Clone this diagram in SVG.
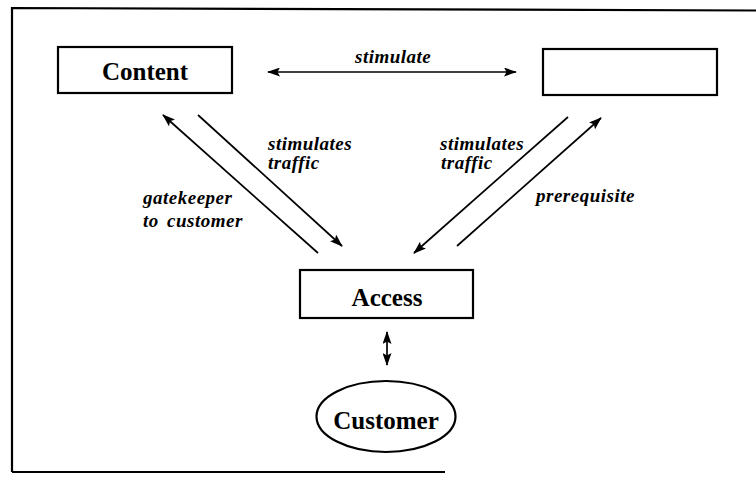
<svg xmlns="http://www.w3.org/2000/svg" width="756" height="482" viewBox="0 0 756 482">
<defs>
<style>
.box{fill:#fff;stroke:#000;stroke-width:2.2}
.node{font-family:"Liberation Serif","Times New Roman",serif;font-weight:bold;font-size:25px;fill:#000;text-anchor:middle}
.lbl{font-family:"Liberation Serif","Times New Roman",serif;font-weight:bold;font-style:italic;font-size:19px;letter-spacing:0.5px;fill:#000}
.con{stroke:#000;stroke-width:1.7;fill:none}
.frame{stroke:#000;stroke-width:2.2;fill:none}
</style>
<marker id="ah" viewBox="0 0 13 9" refX="12" refY="4.5" markerWidth="13" markerHeight="9" markerUnits="userSpaceOnUse" orient="auto-start-reverse">
<path d="M0,0 L13,4.5 L0,9 L2.5,4.5 z" fill="#000"/>
</marker>
</defs>
<rect width="756" height="482" fill="#fff"/>
<polyline class="frame" points="12,472 12,8 756,10.5"/>
<line class="frame" x1="12" y1="472" x2="445" y2="472"/>
<g id="content">
<rect class="box" x="58" y="47" width="174" height="46"/>
<text class="node" x="145" y="80">Content</text>
</g>
<g id="blank">
<rect class="box" x="543" y="49" width="174" height="46"/>
</g>
<g id="access">
<rect class="box" x="300" y="270" width="173" height="48"/>
<text class="node" x="387" y="306">Access</text>
</g>
<g id="customer">
<ellipse class="box" cx="386" cy="416.5" rx="69.5" ry="35.5"/>
<text class="node" x="386" y="429">Customer</text>
</g>
<g id="connectors">
<line class="con" x1="268" y1="72" x2="516" y2="72" marker-start="url(#ah)" marker-end="url(#ah)"/>
<line class="con" x1="318" y1="253" x2="163" y2="115" marker-end="url(#ah)"/>
<line class="con" x1="198" y1="115" x2="342" y2="246" marker-end="url(#ah)"/>
<line class="con" x1="568" y1="117" x2="414" y2="253" marker-end="url(#ah)"/>
<line class="con" x1="457" y1="246" x2="601" y2="118" marker-end="url(#ah)"/>
<line class="con" x1="387" y1="332" x2="387" y2="365" marker-start="url(#ah)" marker-end="url(#ah)"/>
</g>
<g id="labels">
<text class="lbl" x="355" y="63">stimulate</text>
<text class="lbl" x="268" y="150">stimulates</text>
<text class="lbl" x="268" y="169">traffic</text>
<text class="lbl" x="143" y="204">gatekeeper</text>
<text class="lbl" x="143" y="227" word-spacing="3">to customer</text>
<text class="lbl" x="440" y="150">stimulates</text>
<text class="lbl" x="441" y="169">traffic</text>
<text class="lbl" x="536" y="202">prerequisite</text>
</g>
</svg>
